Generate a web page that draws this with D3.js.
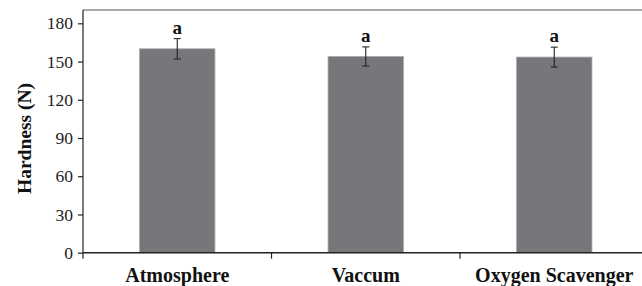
<!DOCTYPE html>
<html><head><meta charset="utf-8">
<script src="https://cdn.jsdelivr.net/npm/d3@7"></script>
<style>html,body{margin:0;padding:0;background:#fff;}svg{display:block;}</style>
</head><body>
<script>
const categories = ["Atmosphere", "Vaccum", "Oxygen Scavenger"];
const hardness = [160, 154, 153.5];
const errors = [8, 7.5, 7.8];
const letters = ["a", "a", "a"];
const yTicks = [0, 30, 60, 90, 120, 150, 180];

(function () {
const W = 642, H = 286;
const FONT = '"Liberation Serif"';
const svg = d3.select("body").append("svg").attr("width", W).attr("height", H);
const mLeft = 83, mTop = 10;
const y = d3.scaleLinear().domain([0, 180]).range([252.7, 23.3]);
const x = d3.scaleBand().domain(categories).range([mLeft, mLeft + 3 * 188.5]).paddingInner(0).paddingOuter(0);
const barW = x.bandwidth() * 0.4;

// top frame line
svg.append("line").attr("x1", mLeft).attr("x2", W).attr("y1", mTop).attr("y2", mTop)
  .attr("stroke", "#8a8a8a").attr("stroke-width", 1.5);

// bars
svg.selectAll("rect.bar").data(categories).enter().append("rect")
  .attr("class", "bar")
  .attr("x", d => x(d) + (x.bandwidth() - barW) / 2)
  .attr("width", barW)
  .attr("y", (d, i) => y(hardness[i]))
  .attr("height", (d, i) => y(0) - y(hardness[i]))
  .attr("fill", "#77777b").attr("stroke", "#a9a9ac").attr("stroke-width", 0.8);

// error bars
const eb = svg.selectAll("g.err").data(categories).enter().append("g").attr("class", "err")
  .attr("stroke", "#222").attr("stroke-width", 1.1);
eb.append("line")
  .attr("x1", d => x(d) + x.bandwidth() / 2).attr("x2", d => x(d) + x.bandwidth() / 2)
  .attr("y1", (d, i) => y(hardness[i] + errors[i])).attr("y2", (d, i) => y(hardness[i] - errors[i]));
eb.append("line")
  .attr("x1", d => x(d) + x.bandwidth() / 2 - 3.5).attr("x2", d => x(d) + x.bandwidth() / 2 + 3.5)
  .attr("y1", (d, i) => y(hardness[i] + errors[i])).attr("y2", (d, i) => y(hardness[i] + errors[i]));
eb.append("line")
  .attr("x1", d => x(d) + x.bandwidth() / 2 - 3.5).attr("x2", d => x(d) + x.bandwidth() / 2 + 3.5)
  .attr("y1", (d, i) => y(hardness[i] - errors[i])).attr("y2", (d, i) => y(hardness[i] - errors[i]));

// letters
svg.selectAll("text.sig").data(categories).enter().append("text").attr("class", "sig")
  .attr("x", d => x(d) + x.bandwidth() / 2)
  .attr("y", (d, i) => y(hardness[i] + errors[i]) - 5)
  .attr("text-anchor", "middle")
  .style("font-family", FONT).style("font-weight", "bold").style("font-size", "19px")
  .attr("fill", "#111")
  .text((d, i) => letters[i]);

// y axis
const yAxis = svg.append("g").attr("transform", `translate(${mLeft},0)`)
  .call(d3.axisLeft(y).tickValues(yTicks).tickSize(5).tickPadding(5).tickSizeOuter(0));
yAxis.select(".domain").attr("d", `M0,${y(0)}V${mTop}`).attr("stroke", "#222").attr("stroke-width", 1.2);
yAxis.selectAll(".tick line").attr("stroke", "#222").attr("stroke-width", 1.2);
yAxis.selectAll(".tick text")
  .style("font-family", FONT).style("font-size", "17.5px").attr("fill", "#222");

// x axis
const xAxisG = svg.append("g").attr("transform", `translate(0,${y(0)})`);
xAxisG.append("line").attr("x1", mLeft).attr("x2", W).attr("y1", 0).attr("y2", 0)
  .attr("stroke", "#222").attr("stroke-width", 1.5);
xAxisG.selectAll("line.xt").data(categories).enter().append("line").attr("class", "xt")
  .attr("x1", d => x(d)).attr("x2", d => x(d)).attr("y1", 0).attr("y2", 6)
  .attr("stroke", "#222").attr("stroke-width", 1.2);
xAxisG.selectAll("text.cat").data(categories).enter().append("text").attr("class", "cat")
  .attr("x", d => x(d) + x.bandwidth() / 2).attr("y", 29)
  .attr("text-anchor", "middle")
  .style("font-family", FONT).style("font-weight", "bold").style("font-size", "20px")
  .attr("fill", "#111")
  .text(d => d);

// y title
svg.append("text")
  .attr("transform", "translate(31,138.5) rotate(-90)")
  .attr("text-anchor", "middle")
  .style("font-family", FONT).style("font-weight", "bold").style("font-size", "19.5px")
  .attr("fill", "#111")
  .text("Hardness (N)");
})();
</script>
</body></html>
